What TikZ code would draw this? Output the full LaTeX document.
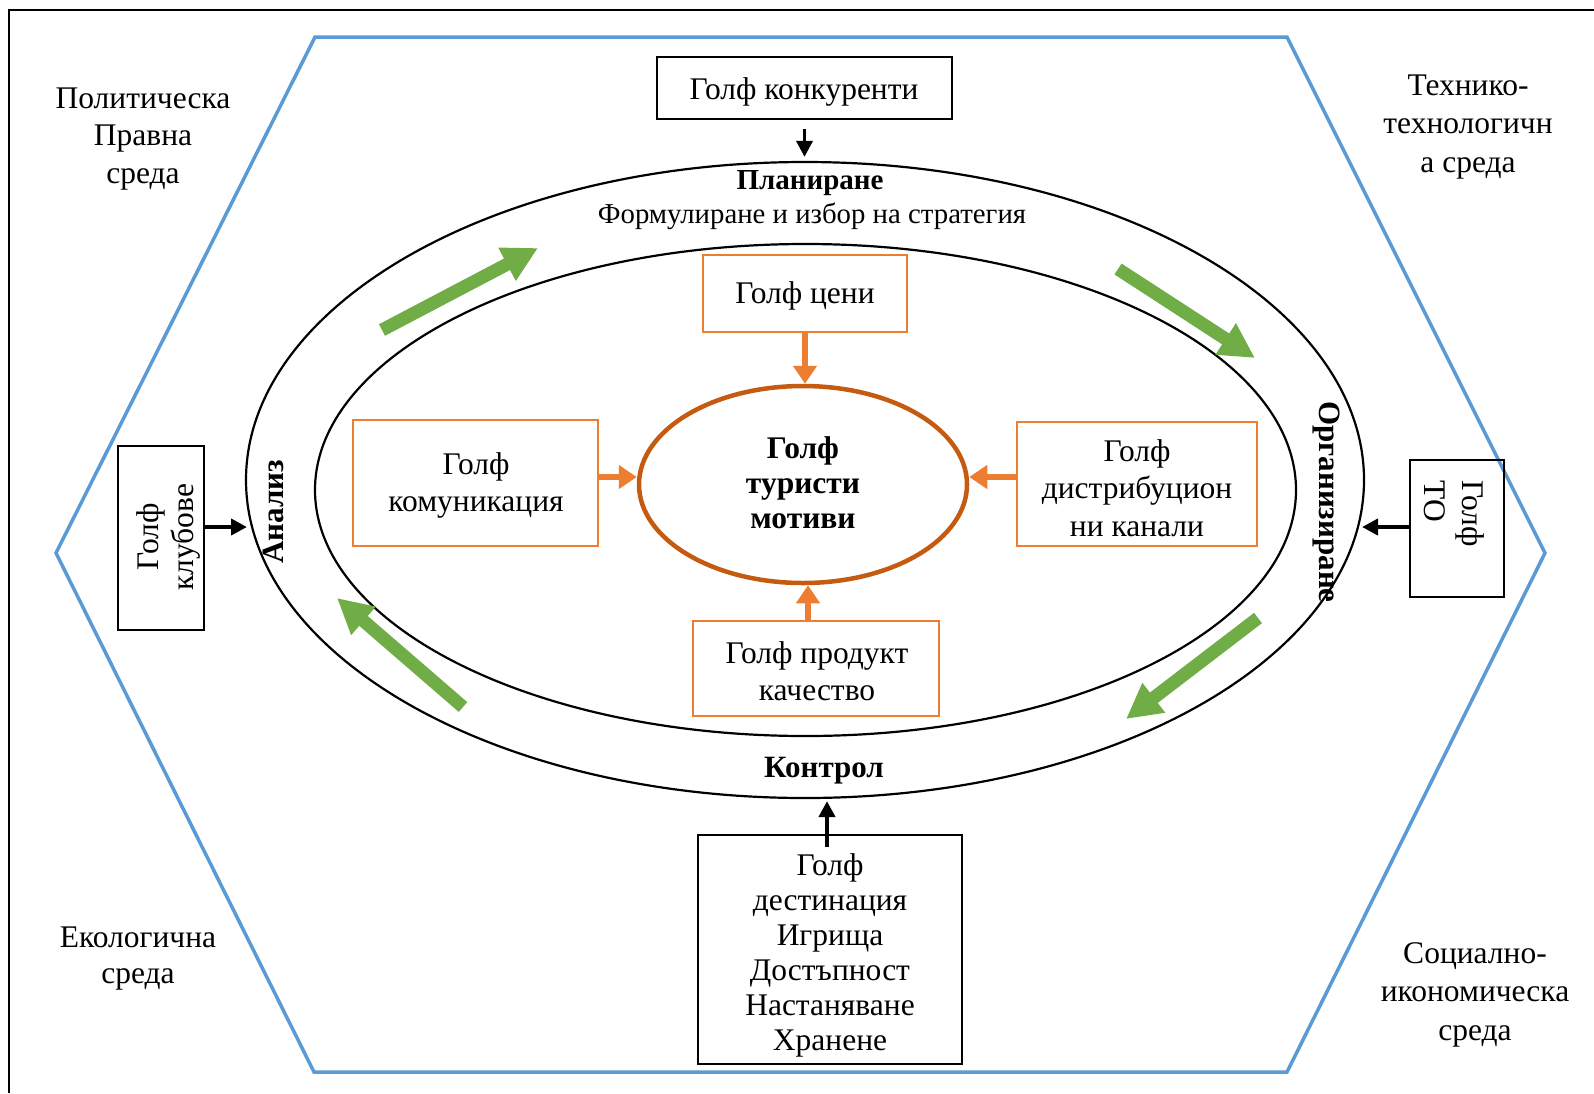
\documentclass[tikz,border=0pt]{standalone}
\usepackage{fontspec}
\setmainfont{Liberation Serif}
\usetikzlibrary{arrows.meta,shapes.geometric}
\definecolor{hexblue}{HTML}{5B9BD5}
\definecolor{boxorange}{HTML}{ED7D31}
\definecolor{ringorange}{HTML}{C55A11}
\definecolor{arrowgreen}{HTML}{70AD47}
\begin{document}
\begin{tikzpicture}[x=1pt,y=-1pt,
  blackbox/.style={draw=black,line width=2pt,inner sep=0pt},
  orangebox/.style={draw=boxorange,line width=2.2pt,inner sep=0pt},
  txt/.style={inner sep=0pt,align=center,font=\fontsize{31.5}{36}\selectfont},
  boldtxt/.style={inner sep=0pt,align=center,font=\bfseries\fontsize{31}{35}\selectfont},
  ring/.style={ellipse,draw=black,line width=2.2pt,inner sep=0pt},
  oarrow/.style={color=boxorange,line width=6pt,-{Triangle[length=18pt,width=23pt]}},
  barrow/.style={color=black,line width=4.5pt,-{Triangle[length=16pt,width=16pt]}},
  garrow/.style={color=arrowgreen,line width=13pt,-{Triangle[length=35pt,width=35pt]}},
]
\useasboundingbox (0,0) rectangle (1594,1093);
\fill[white] (0,0) rectangle (1594,1093);
% frame
\draw[line width=2.2pt] (1594,10) -- (9,10) -- (9,1093);
% hexagon
\draw[hexblue,line width=3.5pt,line join=miter]
  (315,37) -- (1287,37) -- (1545,553) -- (1287,1072) -- (314,1072) -- (56,553) -- cycle;
% environment labels
\node[txt,font=\fontsize{31.5}{37.5}\selectfont] (polit) at (143,139) {Политическа\\Правна\\среда};
\node[txt,font=\fontsize{31.5}{38.5}\selectfont] (tech) at (1468,127) {Технико-\\технологичн\\а среда};
\node[txt] (ecol) at (138,958.5) {Екологична\\среда};
\node[txt,font=\fontsize{31.5}{38.5}\selectfont] (soc) at (1475,994.5) {Социално-\\икономическа\\среда};
% rings
\node[ring,minimum width=1118pt,minimum height=636pt] (outer) at (805,480) {};
\node[ring,minimum width=981pt,minimum height=492pt] (inner) at (805.5,490) {};
\node[ellipse,draw=ringorange,line width=4.5pt,inner sep=0pt,minimum width=328pt,minimum height=197pt] (cent) at (803,484.5) {};
\node[boldtxt,font=\bfseries\fontsize{31.5}{35}\selectfont] (centT) at (803,483) {Голф\\туристи\\мотиви};
% ring labels
\node[boldtxt,font=\bfseries\fontsize{29}{34}\selectfont] (plan) at (810,183) {Планиране};
\node[txt,font=\fontsize{28.8}{32}\selectfont] (form) at (812,216) {Формулиране и избор на стратегия};
\node[boldtxt] (kontr) at (824,771) {Контрол};
\node[boldtxt,rotate=90] (anal) at (273,512) {Анализ};
\node[boldtxt,rotate=-90] (org) at (1326,502) {Организиране};
% black boxes
\node[blackbox,minimum width=295pt,minimum height=62pt] (conc) at (804.5,88) {};
\node[txt] (concT) at (804,92) {Голф конкуренти};
\node[blackbox,minimum width=86pt,minimum height=184pt] (clubs) at (161,538) {};
\node[txt,font=\fontsize{31.5}{35}\selectfont,rotate=90] (clubsT) at (168,537) {Голф\\клубове};
\node[blackbox,minimum width=94pt,minimum height=137pt] (to) at (1457,528.5) {};
\node[txt,font=\fontsize{31.5}{38}\selectfont,rotate=-90,align=left,anchor=west] (toT) at (1454,480) {Голф\\ТО};
\node[blackbox,minimum width=264pt,minimum height=229pt] (dest) at (830,949.5) {};
\node[txt,font=\fontsize{31.5}{35}\selectfont] (destT) at (830,955.5) {Голф\\дестинация\\Игрища\\Достъпност\\Настаняване\\Хранене};
% orange boxes
\node[orangebox,minimum width=204pt,minimum height=77pt] (ceni) at (805,293.5) {};
\node[txt] (ceniT) at (805,296) {Голф цени};
\node[orangebox,minimum width=245pt,minimum height=126pt] (kom) at (475.5,483) {};
\node[txt,font=\fontsize{31.5}{37}\selectfont] (komT) at (476,485) {Голф\\комуникация};
\node[orangebox,minimum width=240pt,minimum height=124pt] (dist) at (1137,484) {};
\node[txt,font=\fontsize{31.5}{37.5}\selectfont] (distT) at (1137,488) {Голф\\дистрибуцион\\ни канали};
\node[orangebox,minimum width=246pt,minimum height=95pt] (prod) at (816,668.5) {};
\node[txt,font=\fontsize{31.5}{37.5}\selectfont] (prodT) at (817,671) {Голф продукт\\качество};
% orange arrows
\draw[oarrow] (ceni.south) -- (ceni.south |- cent.north);
\draw[oarrow] ([yshift=6pt]kom.east) -- ([yshift=6pt]kom.east -| cent.west);
\draw[oarrow] ([yshift=7pt]dist.west) -- ([yshift=7pt]dist.west -| cent.east);
\draw[oarrow] ([xshift=-8pt]prod.north) -- ([xshift=-8pt]prod.north |- cent.south);
% black arrows
\coordinate (anaIn) at (247,527);
\coordinate (orgIn) at (1362,527);
\draw[barrow,line width=3.5pt,shorten <=9pt,shorten >=4pt] (conc.south) -- (conc.south |- outer.north);
\draw[barrow] ([yshift=11pt]clubs.east) -- (anaIn);
\draw[barrow] ([yshift=1.5pt]to.west) -- (orgIn);
\draw[barrow,shorten >=2pt] ([xshift=-3pt,yshift=-13pt]dest.north) -- ([xshift=-3pt]dest.north |- outer.south);
% green cycle arrows
\draw[garrow] (382,330) -- (538,248);
\draw[garrow] (1118,269) -- (1255,358);
\draw[garrow] (1258,618) -- (1126,719);
\draw[garrow] (463,707) -- (337,598);
\end{tikzpicture}
\end{document}
